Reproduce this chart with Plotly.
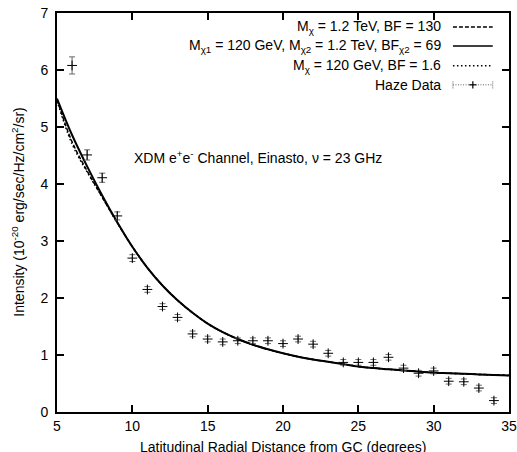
import plotly.graph_objects as go

# ---------------- data ----------------
curve_x = list(range(5, 36))
solid_y = [5.50, 4.86, 4.31, 3.80, 3.33, 2.90, 2.53, 2.22, 1.96, 1.74, 1.55,
           1.40, 1.28, 1.18, 1.10, 1.03, 0.97, 0.92, 0.88, 0.84, 0.80,
           0.77, 0.75, 0.73, 0.71, 0.69, 0.68, 0.67, 0.66, 0.65, 0.64]
dashed_y = [5.48, 4.74, 4.23, 3.77, 3.32, 2.90, 2.53, 2.22, 1.96, 1.74, 1.55,
            1.40, 1.28, 1.18, 1.10, 1.03, 0.97, 0.92, 0.88, 0.84, 0.80,
            0.77, 0.75, 0.73, 0.71, 0.69, 0.68, 0.67, 0.66, 0.65, 0.645]
dotted_y = [5.46, 4.70, 4.21, 3.77, 3.32, 2.90, 2.53, 2.22, 1.96, 1.74, 1.55,
            1.40, 1.28, 1.18, 1.10, 1.03, 0.97, 0.92, 0.88, 0.84, 0.80,
            0.77, 0.75, 0.73, 0.71, 0.69, 0.68, 0.67, 0.66, 0.65, 0.64]

haze_x = list(range(6, 35))
haze_y = [6.08, 4.51, 4.11, 3.44, 2.70, 2.15, 1.85, 1.66, 1.37, 1.28, 1.23,
          1.25, 1.25, 1.25, 1.20, 1.28, 1.19, 1.03, 0.87, 0.87, 0.87, 0.96,
          0.77, 0.68, 0.72, 0.54, 0.53, 0.42, 0.20]
haze_err = [0.15, 0.09, 0.08, 0.07, 0.06, 0.05, 0.05, 0.05, 0.05, 0.05, 0.05,
            0.05, 0.05, 0.05, 0.05, 0.05, 0.05, 0.05, 0.05, 0.05, 0.05, 0.05,
            0.05, 0.05, 0.05, 0.05, 0.05, 0.05, 0.05]

legend_labels = [
    "M<sub>χ</sub> = 1.2 TeV, BF = 130",
    "M<sub>χ1</sub> = 120 GeV, M<sub>χ2</sub> = 1.2 TeV, BF<sub>χ2</sub> = 69",
    "M<sub>χ</sub> = 120 GeV, BF = 1.6",
    "Haze Data",
]
x_ticks = [5, 10, 15, 20, 25, 30, 35]
y_ticks = [0, 1, 2, 3, 4, 5, 6, 7]

FONT = "Liberation Sans, Arial, sans-serif"
DASH = "4px,2px"
DOT = "1.5px,2.5px"

fig = go.Figure()
fig.add_trace(go.Scatter(x=curve_x, y=dashed_y, mode="lines", line_shape="spline",
                         line=dict(color="black", width=1.5, dash=DASH), showlegend=False))
fig.add_trace(go.Scatter(x=curve_x, y=solid_y, mode="lines", line_shape="spline",
                         line=dict(color="black", width=2), showlegend=False))
fig.add_trace(go.Scatter(x=curve_x, y=dotted_y, mode="lines", line_shape="spline",
                         line=dict(color="black", width=1.5, dash=DOT), showlegend=False))
fig.add_trace(go.Scatter(x=haze_x, y=haze_y, mode="markers",
                         marker=dict(symbol="cross-thin", size=7, color="black",
                                     line=dict(width=1, color="black")),
                         error_y=dict(type="data", array=haze_err, visible=True,
                                      color="#666666", thickness=1, width=3),
                         showlegend=False))

# ------------- manual legend (gnuplot style: text right, sample left) -------------
rows_y = [0.965, 0.917, 0.868, 0.820]
text_x = 0.855
s0, s1 = 0.876, 0.964
for i, lab in enumerate(legend_labels):
    fig.add_annotation(xref="paper", yref="paper", x=text_x, y=rows_y[i], text=lab,
                       showarrow=False, xanchor="right", yanchor="middle",
                       font=dict(family=FONT, size=14, color="black"))
shp = []
shp.append(dict(type="line", xref="paper", yref="paper", x0=s0, x1=s1, y0=rows_y[0], y1=rows_y[0],
                line=dict(color="black", width=1.5, dash=DASH)))
shp.append(dict(type="line", xref="paper", yref="paper", x0=s0, x1=s1, y0=rows_y[1], y1=rows_y[1],
                line=dict(color="black", width=1.5)))
shp.append(dict(type="line", xref="paper", yref="paper", x0=s0, x1=s1, y0=rows_y[2], y1=rows_y[2],
                line=dict(color="black", width=1.5, dash=DOT)))
yh = rows_y[3]
shp.append(dict(type="line", xref="paper", yref="paper", x0=s0, x1=s1, y0=yh, y1=yh,
                line=dict(color="#666666", width=1, dash="1px,1.5px")))
for xe in (s0, s1):
    shp.append(dict(type="line", xref="paper", yref="paper", x0=xe, x1=xe, y0=yh - 0.009, y1=yh + 0.009,
                    line=dict(color="#666666", width=1, dash="1px,1px")))
xm = (s0 + s1) / 2
shp.append(dict(type="line", xref="paper", yref="paper", x0=xm - 0.008, x1=xm + 0.008, y0=yh, y1=yh,
                line=dict(color="black", width=1.2)))
shp.append(dict(type="line", xref="paper", yref="paper", x0=xm, x1=xm, y0=yh - 0.009, y1=yh + 0.009,
                line=dict(color="black", width=1.2)))

fig.add_annotation(xref="paper", yref="paper", x=0.165, y=0.639,
                   text="XDM e<sup>+</sup>e<sup>-</sup> Channel, Einasto, ν = 23 GHz",
                   showarrow=False, xanchor="left", yanchor="middle",
                   font=dict(family=FONT, size=14, color="black"))
fig.add_annotation(xref="paper", yref="paper", x=0.5, y=-0.088,
                   text="Latitudinal Radial Distance from GC (degrees)",
                   showarrow=False, xanchor="center", yanchor="middle",
                   font=dict(family=FONT, size=14, color="black"))
fig.add_annotation(xref="paper", yref="paper", x=-0.088, y=0.5, textangle=-90,
                   text="Intensity (10<sup>-20</sup> erg/sec/Hz/cm<sup>2</sup>/sr)",
                   showarrow=False, xanchor="center", yanchor="middle",
                   font=dict(family=FONT, size=14, color="black"))

axis_common = dict(showgrid=False, zeroline=False, showline=True, linecolor="black",
                   linewidth=2, mirror="ticks", ticks="inside", ticklen=7, tickwidth=1.5,
                   tickcolor="black", automargin=False,
                   tickfont=dict(family=FONT, size=14, color="black"))
fig.update_layout(
    width=517, height=452,
    margin=dict(l=57, r=8, t=13, b=40, autoexpand=False),
    paper_bgcolor="white", plot_bgcolor="white",
    shapes=shp,
    xaxis=dict(range=[5, 35], tickvals=x_ticks, ticklabelstandoff=0, **axis_common),
    yaxis=dict(range=[0, 7], tickvals=y_ticks, ticklabelstandoff=4, **axis_common),
)
fig.write_html("out.html", config={"displayModeBar": False},
               post_script="document.body.style.margin='0px';document.body.style.padding='0px';document.body.style.overflow='hidden';")
